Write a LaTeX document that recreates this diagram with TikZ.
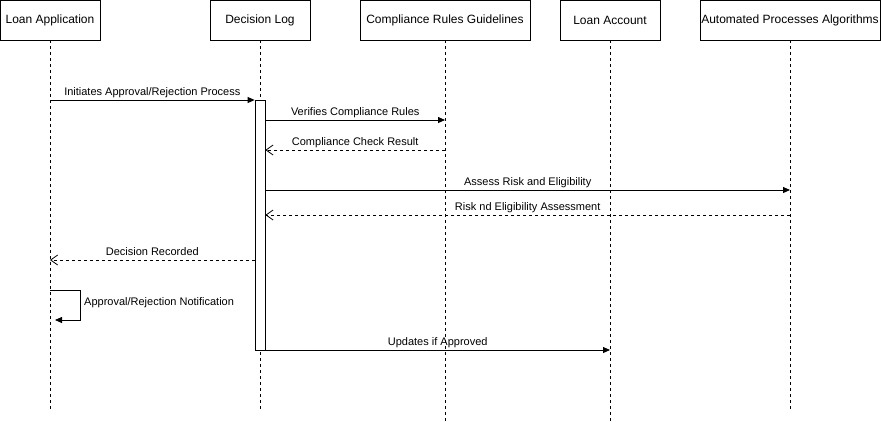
\documentclass[tikz,border=0pt]{standalone}
\usepackage{fontspec}
\setmainfont{Liberation Sans}
\usetikzlibrary{arrows.meta}

\tikzset{
  actor/.style={draw, line width=0.8pt, minimum height=40pt, inner sep=0pt, font=\fontsize{12}{14}\selectfont},
  life/.style={line width=0.8pt, dash pattern=on 3pt off 3pt},
  actbar/.style={draw, fill=white, line width=0.8pt, minimum width=10pt, minimum height=250pt, inner sep=0pt},
  msg/.style={line width=0.8pt, -{Triangle[length=7pt,width=6pt]}},
  reply/.style={line width=0.8pt, dash pattern=on 3pt off 3pt, -{Straight Barb[length=7pt,width=10pt]}},
  lbl/.style={font=\fontsize{11}{13}\selectfont, inner sep=0pt, anchor=base, yshift=5pt}
}

\begin{document}
\begin{tikzpicture}[x=1pt, y=-1pt]
\useasboundingbox (0,0) rectangle (881,421);

% actors
\node[actor, minimum width=100pt] (loan) at (50,20) {Loan Application};
\node[actor, minimum width=100pt] (dec) at (260,20) {Decision Log};
\node[actor, minimum width=170pt] (comp) at (445,20) {Compliance Rules Guidelines};
\node[actor, minimum width=100pt] (acc) at (610,20) {Loan Account};
\node[actor, minimum width=180pt] (auto) at (790,20) {Automated Processes Algorithms};

% lifelines
\draw[life] (loan.south) -- (loan.south |- 0,410);
\draw[life] (dec.south) -- (dec.south |- 0,410);
\draw[life] (comp.south) -- (comp.south |- 0,421);
\draw[life] (acc.south) -- (acc.south |- 0,421);
\draw[life] (auto.south) -- (auto.south |- 0,410);

\node[actbar] (act) at (260,225) {};

% messages
\draw[msg] (loan |- 0,100) -- node[lbl] {Initiates Approval/Rejection Process} (act.west |- 0,100);
\draw[msg] (act.east |- 0,120) -- node[lbl] {Verifies Compliance Rules} (comp |- 0,120);
\draw[reply] (comp |- 0,150) -- node[lbl] {Compliance Check Result} (act.east |- 0,150);
\draw[msg] (act.east |- 0,190) -- node[lbl] {Assess Risk and Eligibility} (auto |- 0,190);
\draw[reply] (auto |- 0,215) -- node[lbl] {Risk nd Eligibility Assessment} (act.east |- 0,215);
\draw[reply] (act.west |- 0,260) -- node[lbl] {Decision Recorded} (loan |- 0,260);

\coordinate (selfa) at (80,290);
\coordinate (selfb) at (80,320);
\draw[msg] (loan |- selfa) -- (selfa) -- (selfb) -- (55,320);
\node[font=\fontsize{11}{13}\selectfont, anchor=west, inner sep=0pt] (note) at (84,303) {Approval/Rejection Notification};

\draw[msg] (act.east |- 0,350) -- node[lbl] {Updates if Approved} (acc |- 0,350);

\end{tikzpicture}
\end{document}
